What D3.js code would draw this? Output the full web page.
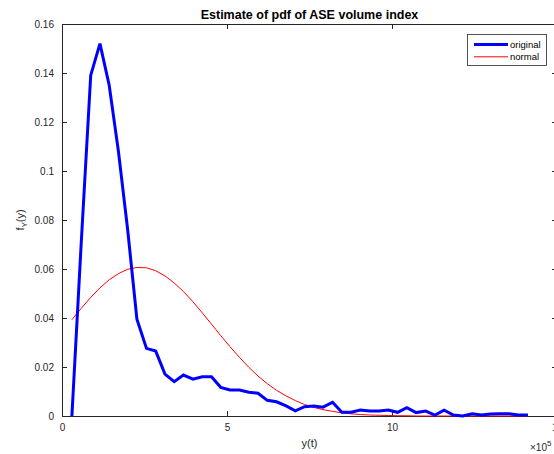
<!DOCTYPE html>
<html><head><meta charset="utf-8">
<script src="https://cdn.jsdelivr.net/npm/d3@7"></script>
<style>body{margin:0;background:#fff;}svg{display:block;font-family:"Liberation Sans",Arial,sans-serif;}</style>
</head><body>
<svg id="c" width="554" height="454"></svg>
<script>
const xValues = [0.30,0.58,0.87,1.15,1.43,1.71,1.99,2.27,2.56,2.84,3.12,3.40,3.68,3.97,4.25,4.53,4.81,5.09,5.38,5.66,5.94,6.22,6.50,6.79,7.07,7.35,7.63,7.91,8.20,8.48,8.76,9.04,9.32,9.61,9.89,10.17,10.45,10.73,11.02,11.30,11.58,11.86,12.14,12.43,12.71,12.99,13.27,13.55,13.83,14.12];
const original = [0.000,0.070,0.139,0.152,0.135,0.108,0.076,0.0395,0.0276,0.0265,0.0171,0.0140,0.0167,0.0150,0.0160,0.0160,0.0117,0.0106,0.0106,0.0097,0.0093,0.0064,0.0058,0.0041,0.0021,0.0038,0.0041,0.0036,0.0056,0.0015,0.0015,0.0024,0.0020,0.0020,0.0024,0.0015,0.0034,0.0014,0.0020,0.0004,0.0024,0.0004,0.0000,0.0009,0.0004,0.0008,0.0009,0.0009,0.0004,0.0004];
const normal = [0.0393,0.0439,0.0484,0.0523,0.0556,0.0581,0.0599,0.0606,0.0605,0.0593,0.0572,0.0543,0.0508,0.0466,0.0421,0.0375,0.0328,0.0283,0.0239,0.0199,0.0163,0.0132,0.0105,0.0082,0.0063,0.0047,0.0035,0.0026,0.0019,0.0013,0.0009,0.0006,0.0004,0.0003,0.0002,0.0001,0.0001,0,0,0,0,0,0,0,0,0,0,0,0,0];
const xTicks = [0,5,10,15];
const yTicks = [0,0.02,0.04,0.06,0.08,0.1,0.12,0.14,0.16];
const seriesNames = ["original","normal"];

const svg = d3.select("#c");
const L=62, R=557, T=24, B=416;
const x = d3.scaleLinear().domain([0,15]).range([L,R]);
const y = d3.scaleLinear().domain([0,0.16]).range([B,T]);
const axCol = "#262626";

// axes
const gx = svg.append("g").attr("transform",`translate(0,${B})`)
  .call(d3.axisBottom(x).tickValues(xTicks).tickFormat(d3.format("d")).tickSizeInner(-5).tickSizeOuter(0).tickPadding(8));
const gxt = svg.append("g").attr("transform",`translate(0,${T})`)
  .call(d3.axisTop(x).tickValues(xTicks).tickFormat("").tickSizeInner(-5).tickSizeOuter(0));
const gy = svg.append("g").attr("transform",`translate(${L},0)`)
  .call(d3.axisLeft(y).tickValues(yTicks).tickFormat(d=>d===0?"0":String(+d.toFixed(2))).tickSizeInner(-5).tickSizeOuter(0).tickPadding(8));
const gyr = svg.append("g").attr("transform",`translate(${R},0)`)
  .call(d3.axisRight(y).tickValues(yTicks).tickFormat("").tickSizeInner(-5).tickSizeOuter(0));
[gx,gxt,gy,gyr].forEach(g=>{
  g.selectAll("path").attr("stroke",axCol).attr("stroke-width",1).attr("shape-rendering","crispEdges");
  g.selectAll("line").attr("stroke",axCol).attr("stroke-width",1).attr("shape-rendering","crispEdges");
  g.selectAll("text").attr("fill",axCol).style("font-size","10px").style("font-family","'Liberation Sans',Arial,sans-serif");
});

// lines
const pts = (arr)=>arr.map((v,i)=>[xValues[i],v]);
const line = d3.line().x(d=>x(d[0])).y(d=>y(d[1]));
svg.append("path").datum(pts(normal)).attr("d",line).attr("fill","none").attr("stroke","#ff0000").attr("stroke-width",1);
svg.append("path").datum(pts(original)).attr("d",line).attr("fill","none").attr("stroke","#0000ff").attr("stroke-width",3).attr("stroke-linejoin","miter");

// title
svg.append("text").attr("x",(L+R)/2).attr("y",18.5).attr("text-anchor","middle")
  .style("font-size","12.5px").style("font-weight","bold").attr("fill","#000").text("Estimate of pdf of ASE volume index");

// x label
svg.append("text").attr("x",(L+R)/2).attr("y",447).attr("text-anchor","middle")
  .style("font-size","11px").attr("fill",axCol).text("y(t)");
// exponent
const ex = svg.append("text").attr("x",530).attr("y",451).style("font-size","10px").attr("fill",axCol);
ex.append("tspan").text("\u00d710");
ex.append("tspan").attr("dy",-5).style("font-size","8px").text("5");

// y label
const yl = svg.append("text").attr("transform",`translate(24,${(T+B)/2}) rotate(-90)`).attr("text-anchor","middle")
  .style("font-size","11px").attr("fill",axCol);
yl.append("tspan").text("f");
yl.append("tspan").attr("dy",3).style("font-size","8px").text("Y");
yl.append("tspan").attr("dy",-3).text("(y)");

// legend
const lg = svg.append("g");
lg.append("rect").attr("x",467.5).attr("y",34.5).attr("width",79).attr("height",31)
  .attr("fill","#fff").attr("stroke",axCol).attr("stroke-width",0.8);
const lcolors=["#0000ff","#ff0000"], lwid=[3,1];
seriesNames.forEach((n,i)=>{
  const yy = 44.5 + i*12.3;
  lg.append("line").attr("x1",474).attr("x2",508).attr("y1",yy).attr("y2",yy).attr("stroke",lcolors[i]).attr("stroke-width",lwid[i]);
  lg.append("text").attr("x",510).attr("y",yy+3.5).style("font-size","9.5px").attr("fill","#000").text(n);
});
</script>
</body></html>
